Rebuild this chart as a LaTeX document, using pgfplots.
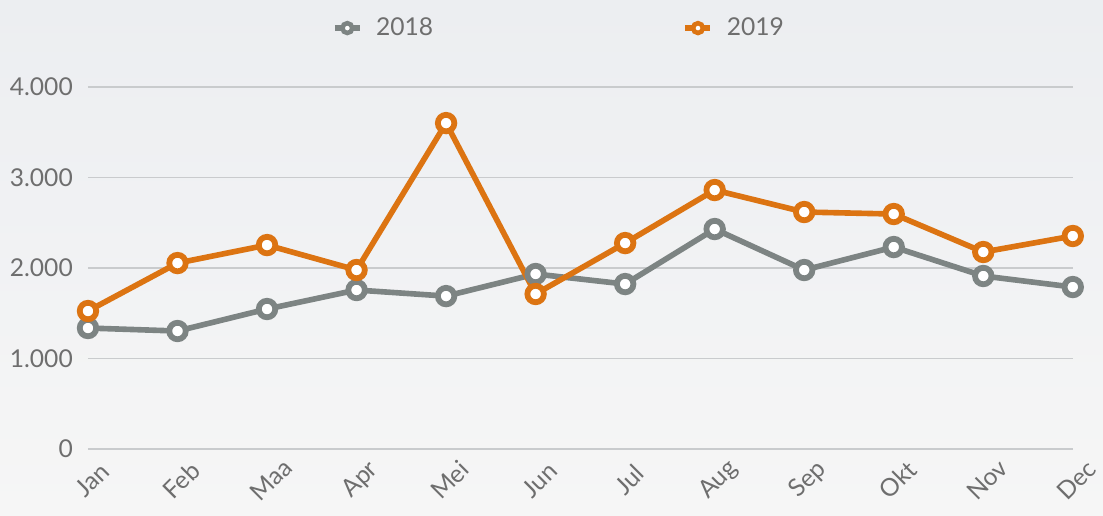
\documentclass[border=0pt]{standalone}
\usepackage{pgfplots}
\pgfplotsset{compat=1.18}
\usepackage{fontspec}
\setmainfont{Lato}
\definecolor{cOr}{HTML}{DC7412}
\definecolor{cGr}{HTML}{7D8483}
\definecolor{cTxt}{HTML}{6E6E6E}
\definecolor{cGrid}{HTML}{C9CBCD}
\definecolor{bgTop}{HTML}{ECEEF1}
\definecolor{bgBot}{HTML}{F6F6F6}
\begin{document}
\begin{tikzpicture}[x=0.02cm,y=0.02cm]
\shade[top color=bgTop, bottom color=bgBot] (0,0) rectangle (1103,516);
\path[use as bounding box] (0,0) rectangle (1103,516);
\begin{axis}[
  at={(1.76cm,1.34cm)}, anchor=origin,
  scale only axis, width=19.7cm, height=7.24cm,
  xmin=0, xmax=11, ymin=0, ymax=4000,
  clip=false,
  axis line style={draw=none},
  tick style={draw=none},
  ytick={0,1000,2000,3000,4000},
  ymajorgrids, grid style={cGrid, line width=0.9pt},
  xtick={0,...,11},
  xticklabels={Jan,Feb,Maa,Apr,Mei,Jun,Jul,Aug,Sep,Okt,Nov,Dec},
  xticklabel style={yshift=-0.62cm, xshift=0.08cm, rotate=45, anchor=center},
  /pgf/number format/assume math mode=true,
  /pgf/number format/1000 sep={.},
  ticklabel style={font=\fontsize{14}{16}\selectfont, text=cTxt},
  yticklabel style={xshift=-0.18cm},
  legend columns=2,
  legend style={at={(0.479,1.163)}, anchor=center, draw=none, fill=none,
    font=\fontsize{14}{16}\selectfont, text=cTxt,
    /tikz/every odd column/.append style={column sep=0.2cm},
    /tikz/every even column/.append style={column sep=4.92cm}},
  legend image code/.code={
    \draw[#1, mark=none] (0cm,0cm) -- (0.5cm,0cm);
    \draw[#1, mark=none, fill=white, line width=2.6pt] (0.25cm,0cm) circle (2.8pt);
  },
  every axis plot/.append style={line width=3.2pt, mark=*, mark size=4.7pt,
    mark options={fill=white, line width=3.3pt}},
]
\addplot[cGr] coordinates {(0,1337)(1,1304)(2,1547)(3,1757)(4,1690)(5,1934)(6,1823)(7,2431)(8,1978)(9,2232)(10,1912)(11,1790)};
\addlegendentry{2018}
\addplot[cOr] coordinates {(0,1525)(1,2055)(2,2254)(3,1978)(4,3602)(5,1713)(6,2276)(7,2862)(8,2619)(9,2597)(10,2177)(11,2354)};
\addlegendentry{2019}
\end{axis}
\end{tikzpicture}
\end{document}
